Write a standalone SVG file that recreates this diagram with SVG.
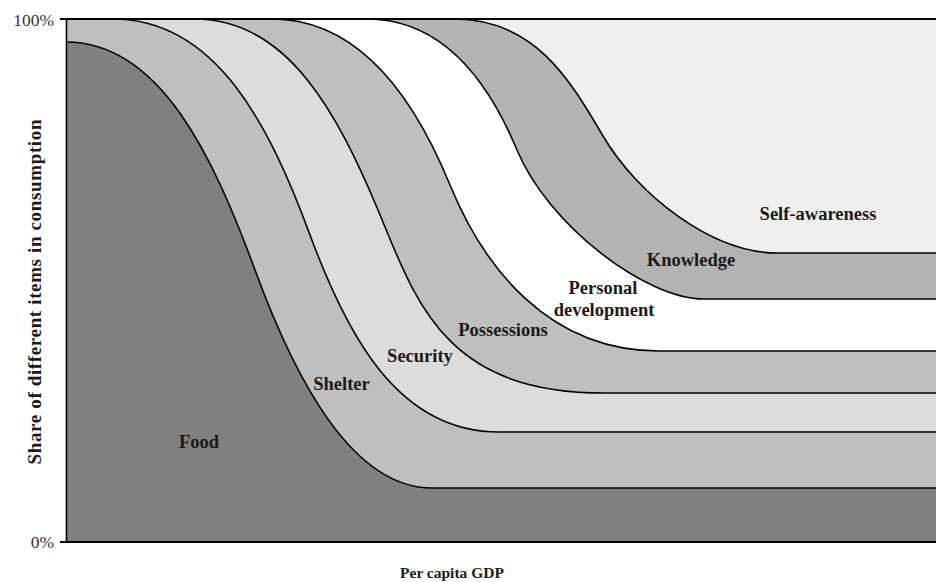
<svg xmlns="http://www.w3.org/2000/svg" width="936" height="582" viewBox="0 0 936 582">
<style>
.band{stroke:none}
.bd{fill:none;stroke:#000;stroke-width:1.6;stroke-linejoin:round}
.ax{fill:none;stroke:#000}
.lbl{font-family:"Liberation Serif","Times New Roman",serif;font-weight:bold;font-size:18.5px;fill:#1a1a1a;text-anchor:middle}
.xl{font-family:"Liberation Serif","Times New Roman",serif;font-weight:bold;font-size:15.5px;fill:#1a1a1a;text-anchor:middle}
.yl{font-family:"Liberation Serif","Times New Roman",serif;font-weight:bold;font-size:19px;fill:#1a1a1a;text-anchor:middle}
.tick{font-family:"Liberation Serif","Times New Roman",serif;font-size:17.5px;fill:#333;text-anchor:end}
</style>
<rect x="0" y="0" width="936" height="582" fill="#ffffff"/>
<g id="self-awareness">
<path class="band" fill="#efefef" d="M454,19 H936 V253 H777 C711.4,253 637.4,194.5 603,136 C568.6,77.5 534,19 454,19 Z"/>
<text class="lbl" x="818" y="220">Self-awareness</text>
</g>
<g id="knowledge">
<path class="band" fill="#b3b3b3" d="M367,19 H454 C534,19 568.6,77.5 603,136 C637.4,194.5 711.4,253 777,253 H936 V299 H704 C645,299 548,224.5 517,150 C489.7,84.5 444,19 367,19 Z"/>
<text class="lbl" x="691" y="266">Knowledge</text>
</g>
<g id="personal-development">
<path class="band" fill="#ffffff" d="M272,19 H367 C444,19 489.7,84.5 517,150 C548,224.5 645,299 704,299 H936 V351 H659 C549,351 484,268 450,185 C416,102 361,19 272,19 Z"/>
<text class="lbl" x="603" y="294">Personal</text>
<text class="lbl" x="604" y="316">development</text>
</g>
<g id="possessions">
<path class="band" fill="#bfbfbf" d="M195,19 H272 C361,19 416,102 450,185 C484,268 549,351 659,351 H936 V393 H604 C444,393 416,301.5 378,210 C338,114.5 288,19 195,19 Z"/>
<text class="lbl" x="503" y="336">Possessions</text>
</g>
<g id="security">
<path class="band" fill="#dcdcdc" d="M113,19 H195 C288,19 338,114.5 378,210 C416,301.5 444,393 604,393 H936 V432 H499 C397,432 346.5,333.5 310,235 C270,127 217,19 113,19 Z"/>
<text class="lbl" x="420" y="362">Security</text>
</g>
<g id="shelter">
<path class="band" fill="#bfbfbf" d="M66,19 H113 C217,19 270,127 310,235 C346.5,333.5 397,432 499,432 H936 V488 H432 C352,488 295,379 255,270 C213,156 160,42 66,42 Z"/>
<text class="lbl" x="341.5" y="390">Shelter</text>
</g>
<g id="food">
<path class="band" fill="#808080" d="M66,42 C160,42 213,156 255,270 C295,379 352,488 432,488 H936 V542 H66 Z"/>
<text class="lbl" x="199" y="448">Food</text>
</g>
<g id="connectors">
<path class="bd" d="M454,19 C534,19 568.6,77.5 603,136 C637.4,194.5 711.4,253 777,253 H936"/>
<path class="bd" d="M367,19 C444,19 489.7,84.5 517,150 C548,224.5 645,299 704,299 H936"/>
<path class="bd" d="M272,19 C361,19 416,102 450,185 C484,268 549,351 659,351 H936"/>
<path class="bd" d="M195,19 C288,19 338,114.5 378,210 C416,301.5 444,393 604,393 H936"/>
<path class="bd" d="M113,19 C217,19 270,127 310,235 C346.5,333.5 397,432 499,432 H936"/>
<path class="bd" d="M66,42 C160,42 213,156 255,270 C295,379 352,488 432,488 H936"/>
</g>
<g id="axes">
<path class="ax" stroke-width="2.2" d="M60,19 H936"/>
<path class="ax" stroke-width="1.6" d="M66.5,19 V542"/>
<path class="ax" stroke-width="2" d="M60,542 H936"/>
<text class="tick" x="54" y="25.5">100%</text>
<text class="tick" x="54" y="548">0%</text>
<text class="xl" x="452" y="578">Per capita GDP</text>
<text class="yl" transform="translate(41,292) rotate(-90)" textLength="345">Share of different items in consumption</text>
</g>
</svg>
